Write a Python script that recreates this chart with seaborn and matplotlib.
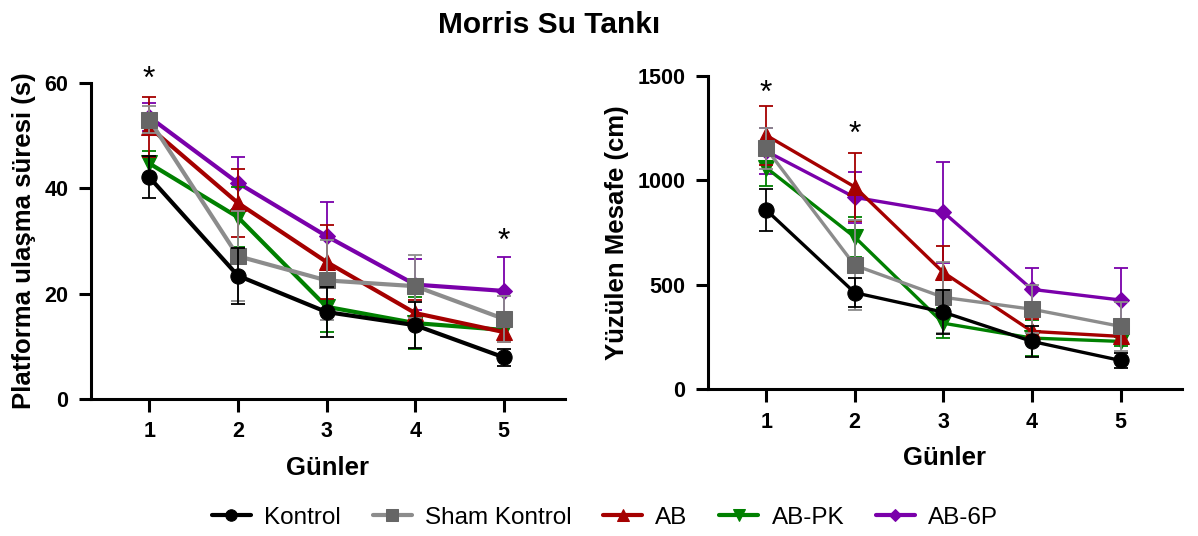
import matplotlib
matplotlib.use("Agg")
import matplotlib.pyplot as plt
import seaborn as sns
import pandas as pd

sns.set_theme(style="ticks")
plt.rcParams["font.family"] = ["Liberation Sans", "DejaVu Sans"]
plt.rcParams["text.color"] = "black"
plt.rcParams["axes.labelcolor"] = "black"
plt.rcParams["xtick.color"] = "black"
plt.rcParams["ytick.color"] = "black"

days = [1, 2, 3, 4, 5]
groups = ["Kontrol", "Sham Kontrol", "AB", "AB-PK", "AB-6P"]

# Escape latency (s), mean and SEM per day
time_kontrol = [42.1, 23.4, 16.5, 14.0, 7.9]
time_sham = [53.0, 27.1, 22.5, 21.4, 15.2]
time_ab = [51.6, 37.2, 26.0, 16.3, 12.7]
time_abpk = [44.7, 34.5, 17.5, 14.4, 13.1]
time_ab6p = [53.5, 41.0, 30.9, 21.7, 20.5]
time_sem_kontrol = [4.0, 5.3, 4.8, 4.4, 1.6]
time_sem_sham = [2.5, 8.5, 7.6, 6.0, 4.4]
time_sem_ab = [5.6, 6.5, 7.0, 2.4, 1.9]
time_sem_abpk = [2.3, 5.7, 4.8, 4.9, 2.0]
time_sem_ab6p = [2.6, 4.9, 6.4, 4.8, 6.4]

# Swim distance (cm), mean and SEM per day
dist_kontrol = [858, 462, 369, 229, 138]
dist_sham = [1152, 593, 440, 383, 301]
dist_ab = [1215, 968, 559, 277, 253]
dist_abpk = [1060, 728, 316, 245, 229]
dist_ab6p = [1139, 918, 847, 478, 427]
dist_sem_kontrol = [100, 70, 106, 75, 35]
dist_sem_sham = [100, 215, 170, 115, 118]
dist_sem_ab = [141, 163, 126, 58, 30]
dist_sem_abpk = [87, 95, 71, 87, 20]
dist_sem_ab6p = [111, 122, 242, 100, 154]

# Significance marks (day, y)
stars_time = [(1, 60.6), (5, 29.8)]
stars_dist = [(1, 1412), (2, 1216)]

time_means = [time_kontrol, time_sham, time_ab, time_abpk, time_ab6p]
time_sems = [time_sem_kontrol, time_sem_sham, time_sem_ab, time_sem_abpk, time_sem_ab6p]
dist_means = [dist_kontrol, dist_sham, dist_ab, dist_abpk, dist_ab6p]
dist_sems = [dist_sem_kontrol, dist_sem_sham, dist_sem_ab, dist_sem_abpk, dist_sem_ab6p]

line_colors = ["#000000", "#8c8c8c", "#a50000", "#008000", "#7a00aa"]
marker_colors = ["#000000", "#666666", "#a50000", "#008000", "#7a00aa"]
markers = ["o", "s", "^", "v", "D"]
marker_sizes = [11, 11, 11, 11, 8]
zorders = [10, 9, 8, 7, 6]

fig = plt.figure(figsize=(11.98, 5.36), dpi=100)
ax1 = fig.add_axes([0.0757, 0.2556, 0.3959, 0.5901])
ax2 = fig.add_axes([0.5907, 0.2737, 0.3957, 0.5851])


def draw_panel(ax, means, sems, ylim, yticks, ylabel, stars):
    for i, g in enumerate(groups):
        df = pd.DataFrame({"Gün": days, "Değer": means[i]})
        ax.errorbar(days, means[i], yerr=sems[i], fmt="none",
                    ecolor=line_colors[i], elinewidth=1.3, capsize=5,
                    capthick=1.3, zorder=zorders[i] - 0.5)
        sns.lineplot(data=df, x="Gün", y="Değer", ax=ax, color=line_colors[i],
                     linewidth=2.4, marker=markers[i], markersize=marker_sizes[i],
                     markerfacecolor=marker_colors[i],
                     markeredgecolor=marker_colors[i], label=g,
                     zorder=zorders[i], errorbar=None)
    for d, y in stars:
        ax.text(d, y, "*", ha="center", va="center", fontsize=23,
                color="black")
    ax.set_xlim(0.34, 5.69)
    ax.set_ylim(*ylim)
    ax.set_xticks(days)
    ax.set_yticks(yticks)
    ax.set_xlabel("Günler", fontsize=18.5, fontweight="bold", labelpad=10)
    ax.set_ylabel(ylabel, fontsize=18.5, fontweight="bold", labelpad=6)
    for lab in ax.get_xticklabels() + ax.get_yticklabels():
        lab.set_fontweight("bold")
        lab.set_fontsize(15.5)
    ax.tick_params(direction="out", length=9, width=2.2, pad=7, colors="black")
    for side in ["top", "right"]:
        ax.spines[side].set_visible(False)
    for side in ["left", "bottom"]:
        ax.spines[side].set_linewidth(2.2)
        ax.spines[side].set_color("black")
    leg = ax.get_legend()
    if leg is not None:
        leg.remove()


draw_panel(ax1, time_means, time_sems, (0, 60), [0, 20, 40, 60],
           "Platforma ulaşma süresi (s)", stars_time)
draw_panel(ax2, dist_means, dist_sems, (0, 1500), [0, 500, 1000, 1500],
           "Yüzülen Mesafe (cm)", stars_dist)

handles, labels = ax1.get_legend_handles_labels()
for h in handles:
    h.set_linewidth(3)
fig.legend(handles, labels, loc="center", bbox_to_anchor=(0.505, 0.034),
           ncol=5, frameon=False, fontsize=17.5, handlelength=1.6,
           handletextpad=0.55, columnspacing=1.3, markerscale=0.75)

fig.text(0.458, 0.953, "Morris Su Tankı", ha="center", va="center",
         fontsize=21.5, fontweight="bold")

fig.savefig("out.png", dpi=100)
